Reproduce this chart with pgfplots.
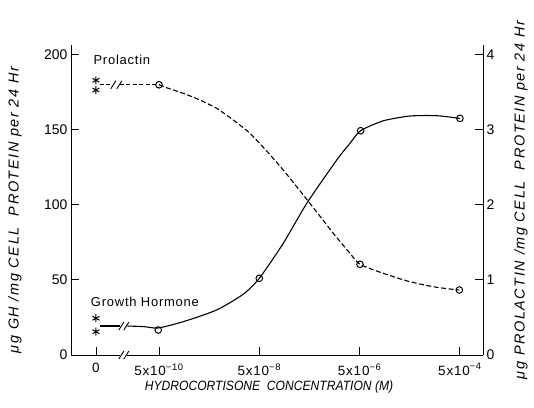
\documentclass[border=0pt]{standalone}
\usepackage{fontspec}
\setmainfont{Liberation Sans}
\newfontfamily\lblfont{Liberation Sans}[LetterSpace=11]
\newfontfamily\xlblfont{Liberation Sans}[FakeStretch=0.9]
\newfontfamily\txtfont{Liberation Sans}[LetterSpace=6]
\usepackage{pgfplots}
\pgfplotsset{compat=1.18}
\begin{document}
\begin{tikzpicture}
\useasboundingbox (-71bp,-53bp) rectangle (463bp,355bp);
\begin{axis}[
  at={(0,0)}, anchor=south west,
  scale only axis, width=412bp, height=310bp,
  xmin=0.123, xmax=4.23, ymin=0, ymax=206.5,
  axis y line*=left, axis x line*=bottom,
  x axis line style={draw=none},
  y axis line style={line width=1pt},
  xtick={0.372,1,2,3,4},
  xticklabels={0, 5x10\textsuperscript{−10}, 5x10\textsuperscript{−8}, 5x10\textsuperscript{−6}, 5x10\textsuperscript{−4}},
  ytick={0,50,100,150,200},
  tick align=inside,
  major tick length=8bp,
  tick style={black, line width=0.9pt},
  xticklabel style={font=\txtfont\fontsize{13.5}{15}\selectfont, yshift=-5bp},
  yticklabel style={font=\fontsize{14}{16}\selectfont},
  /pgf/number format/assume math mode=true,
  clip=false,
]
% x axis with break
\draw[line width=1pt] (axis cs:0.123,0) -- (axis cs:0.615,0);
\draw[line width=1pt] (axis cs:0.685,0) -- (axis cs:4.23,0);
\draw[line width=0.9pt] (axis cs:0.625,0) ++(-2.5bp,-4bp) -- ++(5bp,8bp);
\draw[line width=0.9pt] (axis cs:0.675,0) ++(-2.5bp,-4bp) -- ++(5bp,8bp);
% Growth hormone
\addplot[black, line width=1.1pt] coordinates {(0.41,19.3) (0.615,19.3)};
\draw[line width=0.9pt] (axis cs:0.625,19.3) ++(-2.5bp,-4bp) -- ++(5bp,8bp);
\draw[line width=0.9pt] (axis cs:0.675,19.3) ++(-2.5bp,-4bp) -- ++(5bp,8bp);
\addplot[black, line width=1.1pt, smooth, tension=0.4] coordinates {
 (0.685,19.3) (0.85,18.9) (0.993,18.0) (1.242,22.2) (1.575,30.0) (1.84,40.5) (2.0,51.1) (2.239,74.4) (2.473,101.0)
 (2.772,129.9) (2.904,141.0) (3.01,149.4) (3.236,156.0) (3.502,159.2) (3.77,159.4) (4.0,157.6)};
\addplot[only marks, mark=o, mark size=3.3bp, mark options={fill=white, line width=1pt}] coordinates {
 (0.993,16.65) (2.0,51.1) (3.01,149.4) (4.0,157.6)};
\addplot[only marks, mark=asterisk, mark size=4bp, mark options={line width=1pt}] coordinates {(0.372,24.5) (0.372,15.5)};
\node[font=\txtfont\fontsize{13}{15}\selectfont] at (axis cs:0.86,35.3) {Growth Hormone};
\end{axis}
\begin{axis}[
  at={(0,0)}, anchor=south west,
  scale only axis, width=412bp, height=310bp,
  xmin=0.123, xmax=4.23, ymin=0, ymax=4.13,
  axis y line*=right, axis x line=none,
  y axis line style={line width=1pt},
  ytick={0,1,2,3,4},
  tick align=inside,
  major tick length=8bp,
  tick style={black, line width=0.9pt},
  yticklabel style={font=\fontsize{14}{16}\selectfont},
  /pgf/number format/assume math mode=true,
  clip=false,
]
\addplot[black, line width=1.1pt, dash pattern=on 4bp off 2.5bp] coordinates {(0.41,3.60) (0.54,3.60)};
\addplot[black, line width=1.1pt, dash pattern=on 4bp off 2.5bp] coordinates {(0.61,3.60) (1,3.60)};
\draw[line width=0.9pt] (axis cs:0.545,3.60) ++(-2.5bp,-4bp) -- ++(5bp,8bp);
\draw[line width=0.9pt] (axis cs:0.605,3.60) ++(-2.5bp,-4bp) -- ++(5bp,8bp);
\addplot[black, line width=1.1pt, dash pattern=on 5bp off 2.5bp, smooth, tension=0.4] coordinates {
 (1,3.60) (1.077,3.56) (1.242,3.486) (1.409,3.397) (1.575,3.286) (1.741,3.13) (1.907,2.953) (2.074,2.717) (2.239,2.464)
 (2.373,2.242) (2.505,2.02) (2.738,1.621) (2.904,1.355) (3.004,1.208) (3.236,1.088) (3.502,0.976) (3.769,0.902) (3.994,0.866)};
\addplot[only marks, mark=o, mark size=3.3bp, mark options={fill=white, line width=1pt}] coordinates {
 (1,3.60) (3.004,1.208) (3.994,0.866)};
\addplot[only marks, mark=asterisk, mark size=4bp, mark options={line width=1pt}] coordinates {(0.372,3.66) (0.372,3.53)};
\node[font=\txtfont\fontsize{13}{15}\selectfont] at (axis cs:0.63,3.93) {Prolactin};
\end{axis}
\node[font=\xlblfont\itshape\fontsize{13.5}{15}\selectfont] at (198bp,-32bp) {HYDROCORTISONE\ \ CONCENTRATION (M)};
\node[font=\lblfont\itshape\fontsize{14.5}{16}\selectfont, rotate=90] at (-56bp,145bp) {μg GH /mg CELL\ \ PROTEIN per 24 Hr};
\node[font=\lblfont\itshape\fontsize{14.5}{16}\selectfont, rotate=90] at (450bp,155bp) {μg PROLACTIN /mg CELL\ \ PROTEIN per 24 Hr};
\end{tikzpicture}
\end{document}
